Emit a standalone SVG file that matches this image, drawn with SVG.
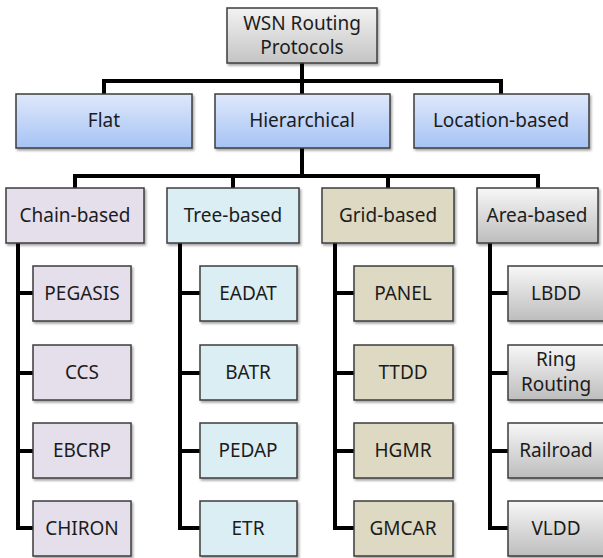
<svg xmlns="http://www.w3.org/2000/svg" width="603" height="558" viewBox="0 0 603 558">
<defs>
<linearGradient id="gGray" x1="0" y1="0" x2="0" y2="1"><stop offset="0" stop-color="#f2f2f2"/><stop offset="1" stop-color="#c4c4c4"/></linearGradient>
<linearGradient id="gBlue" x1="0" y1="0" x2="0" y2="1"><stop offset="0" stop-color="#dfe8fb"/><stop offset="1" stop-color="#a6c3f4"/></linearGradient>
<linearGradient id="gSilver" x1="0" y1="0" x2="0" y2="1"><stop offset="0" stop-color="#f7f7f7"/><stop offset="1" stop-color="#bdbdbd"/></linearGradient>
<filter id="sh" x="-10%" y="-10%" width="130%" height="140%"><feDropShadow dx="1.5" dy="2" stdDeviation="1.2" flood-color="#000" flood-opacity="0.35"/></filter>
</defs>
<style>
rect{stroke:#3c3c3c;stroke-width:1.5;filter:url(#sh)}
.root{fill:url(#gGray)}
.blue{fill:url(#gBlue)}
.chain{fill:#e5dfec}
.tree{fill:#daeef3}
.grid{fill:#ddd9c3}
.area{fill:url(#gSilver)}
text{font-family:"Noto Sans","Open Sans","Liberation Sans",sans-serif;font-size:19px;fill:#1c1c1c;text-anchor:middle}
.c{fill:none;stroke:#000;stroke-width:4;stroke-linejoin:miter;stroke-linecap:butt}
</style>
<g id="connectors">
<path class="c" d="M302 63V81M104 94V81H501V94M302 81V94"/>
<path class="c" d="M302 148V176M75 188V176H538V188M233 176V188M388 176V188"/>
<path class="c" d="M18 243V528H33M18 293H33M18 373H33M18 451H33"/>
<path class="c" d="M180 243V528H200M180 293H200M180 373H200M180 451H200"/>
<path class="c" d="M335 243V528H354M335 293H354M335 373H354M335 451H354"/>
<path class="c" d="M490 243V528H508M490 293H508M490 373H508M490 451H508"/>
</g>
<g id="root"><rect class="root" x="227" y="8" width="150" height="55"/><text x="302" y="30">WSN Routing</text><text x="302" y="54">Protocols</text></g>
<g id="flat"><rect class="blue" x="16" y="94" width="176" height="54"/><text x="104" y="127">Flat</text></g>
<g id="hierarchical"><rect class="blue" x="215" y="94" width="175" height="54"/><text x="302" y="127">Hierarchical</text></g>
<g id="location"><rect class="blue" x="414" y="94" width="175" height="54"/><text x="501" y="127">Location-based</text></g>
<g id="chain"><rect class="chain" x="6" y="188" width="138" height="55"/><text x="75" y="222">Chain-based</text></g>
<g id="treeb"><rect class="tree" x="167" y="188" width="132" height="55"/><text x="233" y="222">Tree-based</text></g>
<g id="gridb"><rect class="grid" x="322" y="188" width="132" height="55"/><text x="388" y="222">Grid-based</text></g>
<g id="areab"><rect class="area" x="477" y="188" width="121" height="55"/><text x="537" y="222">Area-based</text></g>
<g id="pegasis"><rect class="chain" x="33" y="266" width="98" height="55"/><text x="82" y="300">PEGASIS</text></g>
<g id="ccs"><rect class="chain" x="33" y="345" width="98" height="55"/><text x="82" y="379">CCS</text></g>
<g id="ebcrp"><rect class="chain" x="33" y="423" width="98" height="55"/><text x="82" y="457">EBCRP</text></g>
<g id="chiron"><rect class="chain" x="33" y="501" width="98" height="55"/><text x="82" y="535">CHIRON</text></g>
<g id="eadat"><rect class="tree" x="200" y="266" width="97" height="55"/><text x="248" y="300">EADAT</text></g>
<g id="batr"><rect class="tree" x="200" y="345" width="97" height="55"/><text x="248" y="379">BATR</text></g>
<g id="pedap"><rect class="tree" x="200" y="423" width="97" height="55"/><text x="248" y="457">PEDAP</text></g>
<g id="etr"><rect class="tree" x="200" y="501" width="97" height="55"/><text x="248" y="535">ETR</text></g>
<g id="panel"><rect class="grid" x="354" y="266" width="99" height="55"/><text x="403" y="300">PANEL</text></g>
<g id="ttdd"><rect class="grid" x="354" y="345" width="99" height="55"/><text x="403" y="379">TTDD</text></g>
<g id="hgmr"><rect class="grid" x="354" y="423" width="99" height="55"/><text x="403" y="457">HGMR</text></g>
<g id="gmcar"><rect class="grid" x="354" y="501" width="99" height="55"/><text x="403" y="535">GMCAR</text></g>
<g id="lbdd"><rect class="area" x="508" y="266" width="98" height="55"/><text x="556" y="300">LBDD</text></g>
<g id="ring"><rect class="area" x="508" y="345" width="98" height="55"/><text x="556" y="366">Ring</text><text x="556" y="391">Routing</text></g>
<g id="railroad"><rect class="area" x="508" y="423" width="98" height="55"/><text x="556" y="457">Railroad</text></g>
<g id="vldd"><rect class="area" x="508" y="501" width="98" height="55"/><text x="556" y="535">VLDD</text></g>
</svg>
